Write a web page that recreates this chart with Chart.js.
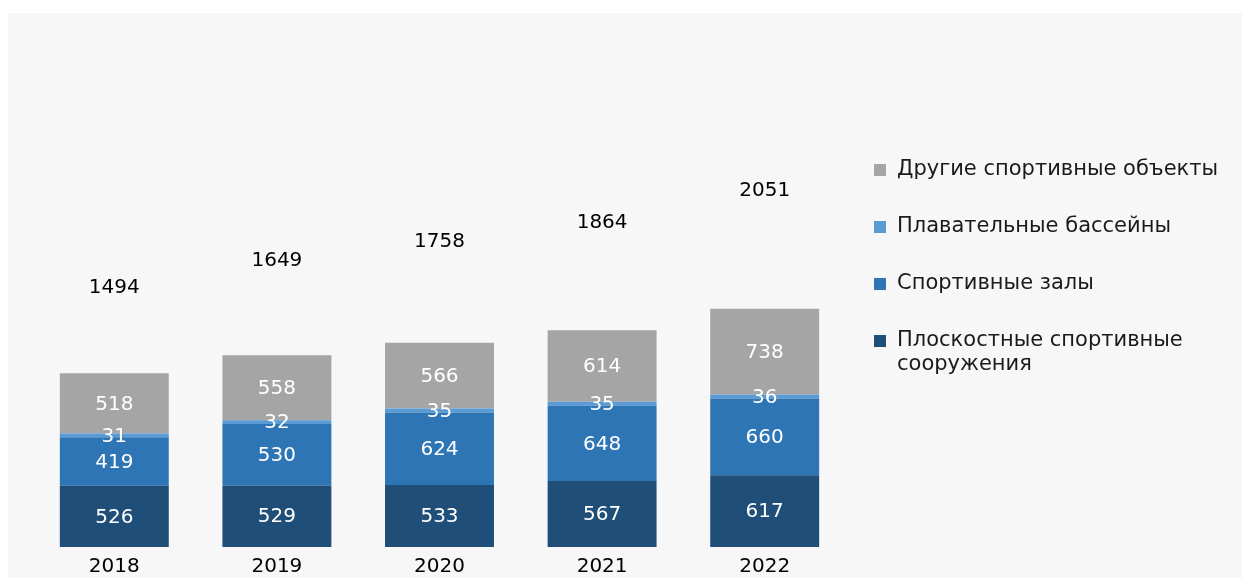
<!DOCTYPE html>
<html>
<head>
<meta charset="utf-8">
<script src="https://cdn.jsdelivr.net/npm/chart.js@4.4.0/dist/chart.umd.min.js"></script>
<style>
  html, body { margin: 0; padding: 0; background: #fff; }
  #wrap { position: absolute; left: 8px; top: 13px; width: 1234px; height: 565px; background: #f7f7f7; }
</style>
</head>
<body>
<div id="wrap"><canvas id="chart"></canvas></div>
<script>
const years = ['2018', '2019', '2020', '2021', '2022'];
const flatFacilities = [526, 529, 533, 567, 617];
const sportHalls     = [419, 530, 624, 648, 660];
const swimmingPools  = [31, 32, 35, 35, 36];
const otherFacilities = [518, 558, 566, 614, 738];
const totals = [1494, 1649, 1758, 1864, 2051];

const FONT = "'DejaVu Sans', Verdana, sans-serif";

// value labels centred in each segment (the hidden totals series carries the totals)
const barLabels = {
  id: 'barLabels',
  afterDatasetsDraw(chart) {
    const ctx = chart.ctx;
    ctx.save();
    ctx.font = '20px ' + FONT;
    ctx.textAlign = 'center';
    ctx.textBaseline = 'middle';
    chart.data.datasets.forEach((ds, i) => {
      const meta = chart.getDatasetMeta(i);
      meta.data.forEach((bar, j) => {
        ctx.fillStyle = ds.labelColor;
        ctx.fillText(ds.data[j], bar.x, (bar.y + bar.base) / 2 + 1);
      });
    });
    ctx.restore();
  }
};

// legend on the right, top item = top segment
const sideLegend = {
  id: 'sideLegend',
  afterDraw(chart) {
    const ctx = chart.ctx;
    const area = chart.chartArea;
    const items = chart.data.datasets.filter(d => d.inLegend).reverse();
    const x0 = area.right + 28;
    let y = 157;
    ctx.save();
    ctx.font = '21px ' + FONT;
    ctx.textBaseline = 'middle';
    ctx.textAlign = 'left';
    items.forEach(d => {
      ctx.fillStyle = d.backgroundColor;
      ctx.fillRect(x0, y - 6, 12, 12);
      ctx.fillStyle = '#1a1a1a';
      const lines = Array.isArray(d.legendText) ? d.legendText : [d.legendText];
      lines.forEach((t, k) => ctx.fillText(t, x0 + 23, y + k * 23.5));
      y += 57;
    });
    ctx.restore();
  }
};

new Chart(document.getElementById('chart'), {
  type: 'bar',
  data: {
    labels: years,
    datasets: [
      { label: 'Плоскостные спортивные сооружения', legendText: ['Плоскостные спортивные', 'сооружения'],
        data: flatFacilities, backgroundColor: '#1f4e79', labelColor: '#fff', inLegend: true },
      { label: 'Спортивные залы', legendText: 'Спортивные залы',
        data: sportHalls, backgroundColor: '#2e75b6', labelColor: '#fff', inLegend: true },
      { label: 'Плавательные бассейны', legendText: 'Плавательные бассейны',
        data: swimmingPools, backgroundColor: '#5b9bd5', labelColor: '#fff', inLegend: true },
      { label: 'Другие спортивные объекты', legendText: 'Другие спортивные объекты',
        data: otherFacilities, backgroundColor: '#a5a5a5', labelColor: '#fff', inLegend: true },
      { label: 'Всего', data: totals, backgroundColor: 'rgba(0,0,0,0)', labelColor: '#000', inLegend: false }
    ]
  },
  options: {
    responsive: true,
    maintainAspectRatio: false,
    animation: false,
    layout: { padding: { left: 25, right: 396, top: 11, bottom: 0 } },
    datasets: { bar: { barPercentage: 0.67, categoryPercentage: 1 } },
    scales: {
      x: {
        stacked: true,
        grid: { display: false },
        border: { display: false },
        ticks: { color: '#000', font: { family: FONT, size: 20, lineHeight: 0.95 }, padding: 2 }
      },
      y: {
        stacked: true,
        display: false,
        min: 0,
        max: 4500
      }
    },
    plugins: { legend: { display: false }, tooltip: { enabled: false } }
  },
  plugins: [barLabels, sideLegend]
});
</script>
</body>
</html>
